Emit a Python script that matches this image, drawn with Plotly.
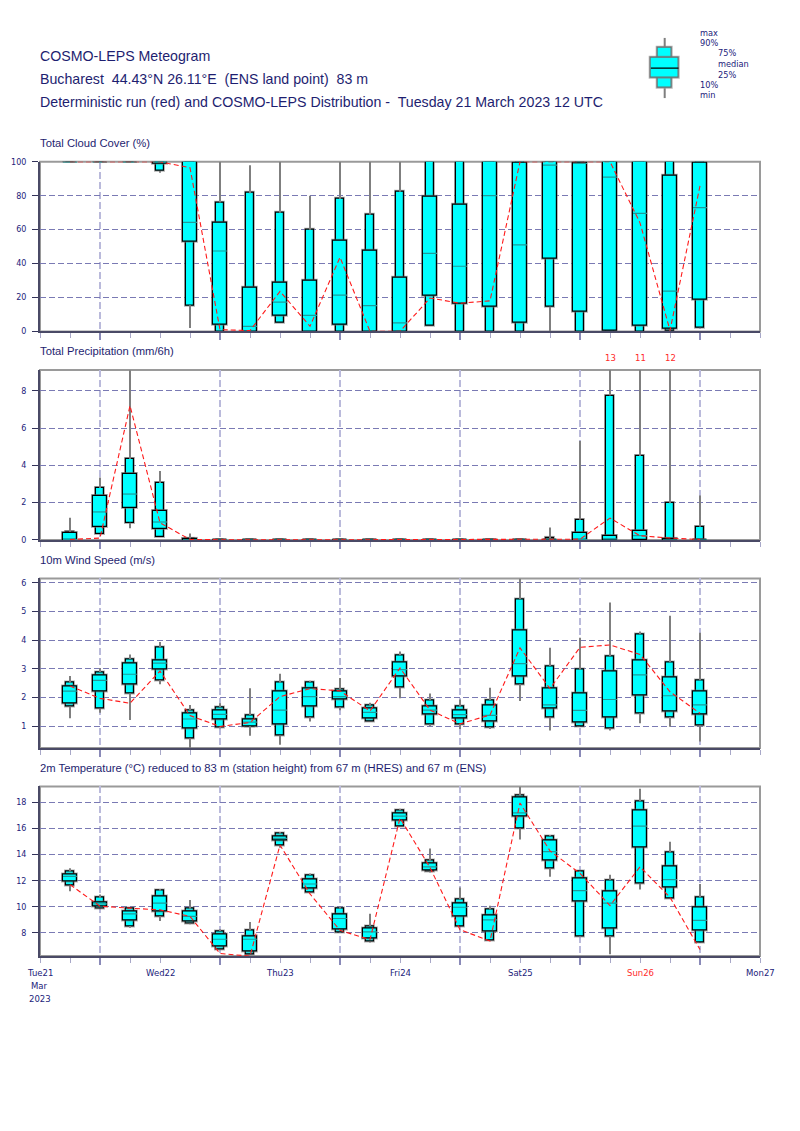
import plotly.graph_objects as go

# page body keeps a default 8px margin; figure is sized to fit inside it
OX, OY = 8, 8
W, H = 784, 1115

# ---------------- data ----------------
hours = [6, 12, 18, 24, 30, 36, 42, 48, 54, 60, 66, 72, 78, 84, 90, 96, 102, 108, 114, 120, 126, 132]

# Total cloud cover (%)
cc_min = [100, 100, 100, 93.5, 2, 0, 0, 5.3, 0, 0, 0, 0, 3.5, 0, 0, 0, 0, 0, 0, 0, 0, 2]
cc_p10 = [100, 100, 100, 94.5, 15.4, 0, 0, 5.3, 0, 0, 0, 0, 3.5, 0, 0, 0, 14.6, 0, 0, 0, 0.5, 2.1]
cc_p25 = [100, 100, 100, 98.6, 52.6, 4.1, 0, 9, 0, 4, 0, 0, 20.9, 16.2, 14.6, 5, 43, 11.5, 0.4, 3.3, 1.6, 18.5]
cc_med = [100, 100, 100, 100, 64.3, 47.4, 3, 17.3, 9.4, 21.4, 15.2, 5, 46, 38.4, 80, 51, 98, 99, 91, 69.6, 23.8, 73]
cc_p75 = [100, 100, 100, 100, 100, 64.3, 26, 28.5, 30, 53.6, 47.8, 31.8, 79.5, 74.7, 100, 99.2, 100, 99.2, 100, 100, 92, 99.2]
cc_p90 = [100, 100, 100, 100, 100, 76, 81.5, 70, 60, 78, 68.8, 82.4, 100, 100, 100, 100, 100, 100, 100, 100, 100, 100]
cc_max = [100, 100, 100, 100, 100, 100, 98, 100, 80, 100, 100, 100, 100, 100, 100, 100, 100, 100, 100, 100, 100, 100]
cc_det = [100, 100, 100, 100, 96.5, 1, 0.5, 23.6, 3, 43.7, 0, 0, 19.7, 16.6, 18, 100, 100, 100, 100, 64, 0.6, 85.8]

# Total precipitation (mm/6h)
tp_min = [0, 0.3, 0.62, 0.18, 0, 0, 0, 0, 0, 0, 0, 0, 0, 0, 0, 0, 0, 0, 0, 0, 0, 0]
tp_p10 = [0, 0.3, 0.92, 0.18, 0, 0, 0, 0, 0, 0, 0, 0, 0, 0, 0, 0, 0, 0, 0, 0, 0, 0]
tp_p25 = [0, 0.69, 1.74, 0.6, 0, 0, 0, 0, 0, 0, 0, 0, 0, 0, 0, 0, 0, 0, 0, 0, 0, 0]
tp_med = [0.02, 1.5, 2.46, 0.96, 0.01, 0, 0, 0, 0, 0, 0, 0, 0, 0, 0, 0, 0, 0.02, 0.05, 0.23, 0, 0]
tp_p75 = [0.35, 2.38, 3.55, 1.54, 0.05, 0, 0, 0, 0, 0, 0, 0, 0, 0, 0, 0, 0.02, 0.35, 0.23, 0.46, 0.03, 0.02]
tp_p90 = [0.44, 2.78, 4.34, 3.05, 0.07, 0, 0, 0, 0, 0, 0, 0, 0, 0, 0, 0, 0.1, 1.08, 7.75, 4.5, 1.97, 0.71]
tp_max = [1.19, 3.35, 9.1, 3.7, 0.34, 0, 0, 0, 0, 0, 0, 0, 0, 0, 0, 0, 0.66, 5.3, 13, 11, 12, 2.38]
tp_det = [0.02, 0.1, 7.2, 0.92, 0.02, 0, 0, 0, 0, 0, 0, 0, 0, 0, 0, 0, 0, 0.04, 1.17, 0.22, 0.1, 0.02]

# 10m wind speed (m/s)
ws_min = [1.28, 1.47, 1.22, 2.46, 0.24, 0.93, 0.67, 0.35, 1.16, 1.56, 1.16, 1.97, 0.99, 0.9, 0.9, 1.88, 0.85, 1.0, 0.85, 1.1, 0.98, 0.47]
ws_p10 = [1.68, 1.61, 2.14, 2.6, 0.57, 0.97, 1.0, 0.67, 1.31, 1.66, 1.16, 2.34, 1.06, 1.08, 0.97, 2.46, 1.29, 1.0, 0.92, 1.45, 1.32, 1.02]
ws_p25 = [1.8, 2.23, 2.45, 2.97, 0.93, 1.22, 1.01, 1.06, 1.68, 1.93, 1.28, 2.72, 1.41, 1.26, 1.16, 2.72, 1.62, 1.14, 1.29, 2.07, 1.53, 1.41]
ws_med = [2.22, 2.6, 2.81, 3.2, 1.25, 1.41, 1.14, 1.56, 2.03, 2.03, 1.48, 2.97, 1.56, 1.4, 1.38, 3.18, 1.74, 1.55, 1.93, 2.79, 2.06, 1.74]
ws_p75 = [2.4, 2.77, 3.2, 3.29, 1.43, 1.56, 1.24, 2.22, 2.32, 2.2, 1.62, 3.23, 1.69, 1.54, 1.74, 4.33, 2.31, 2.16, 2.9, 3.29, 2.69, 2.23]
ws_p90 = [2.51, 2.89, 3.34, 3.74, 1.56, 1.66, 1.39, 2.51, 2.54, 2.28, 1.71, 3.47, 1.9, 1.68, 1.91, 5.42, 3.1, 2.97, 3.44, 4.2, 3.23, 2.6]
ws_max = [2.75, 3.03, 3.5, 3.93, 1.74, 1.8, 2.32, 2.83, 2.58, 2.68, 1.82, 3.6, 2.14, 1.93, 2.34, 6.15, 3.73, 4.08, 5.31, 4.3, 4.85, 4.26]
ws_det = [2.4, 1.97, 1.8, 2.92, 1.37, 0.99, 1.13, 2.03, 2.31, 2.23, 1.53, 3.03, 1.56, 1.08, 1.39, 3.73, 2.31, 3.75, 3.83, 3.5, 2.2, 1.45]

# 2m temperature (degC)
t2_min = [11.19, 9.9, 8.4, 8.91, 8.66, 6.73, 6.38, 14.53, 11.11, 8.0, 7.27, 16.18, 12.63, 8.53, 7.39, 15.16, 12.3, 7.7, 6.38, 11.32, 10.61, 7.29]
t2_p10 = [11.62, 9.9, 8.53, 9.29, 8.71, 6.76, 6.38, 14.66, 11.11, 8.03, 7.32, 16.18, 12.68, 8.53, 7.39, 16.0, 12.94, 7.75, 7.75, 11.75, 10.61, 7.29]
t2_p25 = [11.95, 10.05, 8.96, 9.65, 8.91, 6.99, 6.56, 15.04, 11.42, 8.28, 7.57, 16.6, 12.76, 9.27, 8.13, 16.91, 13.57, 10.38, 8.33, 14.58, 11.49, 8.2]
t2_med = [12.33, 10.23, 9.47, 10.28, 9.27, 7.52, 7.52, 15.24, 11.75, 9.11, 8.08, 16.94, 13.06, 9.97, 9.01, 17.19, 14.23, 11.24, 10.28, 16.18, 12.08, 8.96]
t2_p75 = [12.51, 10.33, 9.65, 10.81, 9.65, 7.9, 7.77, 15.39, 12.08, 9.42, 8.33, 17.14, 13.34, 10.23, 9.32, 18.38, 15.11, 12.15, 11.14, 17.37, 13.09, 9.92]
t2_p90 = [12.71, 10.68, 9.85, 11.24, 9.85, 8.15, 8.2, 15.59, 12.43, 9.85, 8.53, 17.39, 13.52, 10.56, 9.8, 18.5, 15.42, 12.68, 12.05, 18.08, 14.15, 10.71]
t2_max = [12.96, 10.94, 9.92, 11.37, 10.53, 8.28, 8.84, 15.72, 12.56, 10.05, 9.47, 17.5, 14.46, 11.49, 10.08, 19.2, 15.49, 12.76, 12.46, 19.04, 14.99, 11.75]
t2_det = [11.7, 10.05, 9.9, 9.77, 9.27, 6.43, 6.23, 14.73, 10.99, 8.2, 7.49, 16.8, 13.01, 8.25, 7.39, 17.95, 14.28, 12.56, 10.1, 13.06, 10.73, 6.73]

# axis labels
grid_hours = [12, 36, 60, 84, 108, 132]
day_hours = [0, 24, 48, 72, 96, 120, 144]
day_labels = ["Tue21", "Wed22", "Thu23", "Fri24", "Sat25", "Sun26", "Mon27"]
day_colors = ["#22227a", "#22227a", "#22227a", "#22227a", "#22227a", "#ff2a2a", "#22227a"]

panel_titles = [
    "Total Cloud Cover (%)",
    "Total Precipitation (mm/6h)",
    "10m Wind Speed (m/s)",
    "2m Temperature (\u00b0C) reduced to 83 m (station height) from 67 m (HRES) and 67 m (ENS)",
]
cc_ticks = [0, 20, 40, 60, 80, 100]
tp_ticks = [0, 2, 4, 6, 8]
ws_ticks = [1, 2, 3, 4, 5, 6]
t2_ticks = [8, 10, 12, 14, 16, 18]

legend_stats = [0, 1, 2, 3, 4, 5, 6]  # min, p10, p25, median, p75, p90, max
legend_labels = ["min", "10%", "25%", "median", "75%", "90%", "max"]

header_lines = [
    "COSMO-LEPS Meteogram",
    "Bucharest  44.43\u00b0N 26.11\u00b0E  (ENS land point)  83 m",
    "Deterministic run (red) and COSMO-LEPS Distribution -  Tuesday 21 March 2023 12 UTC",
]

# ---------------- layout constants ----------------
NAVY = "#1e1e70"
CYAN = "#00ffff"
X0, X1 = 40, 760
panels = [
    dict(top=159, bottom=330, rng=[0, 100], ticks=cc_ticks,
         stats=(cc_min, cc_p10, cc_p25, cc_med, cc_p75, cc_p90, cc_max, cc_det)),
    dict(top=368.8, bottom=540.2, rng=[0, 9.12], ticks=tp_ticks,
         stats=(tp_min, tp_p10, tp_p25, tp_med, tp_p75, tp_p90, tp_max, tp_det)),
    dict(top=579, bottom=750, rng=[0.24, 6.15], ticks=ws_ticks,
         stats=(ws_min, ws_p10, ws_p25, ws_med, ws_p75, ws_p90, ws_max, ws_det)),
    dict(top=788.8, bottom=959.8, rng=[6.23, 19.21], ticks=t2_ticks,
         stats=(t2_min, t2_p10, t2_p25, t2_med, t2_p75, t2_p90, t2_max, t2_det)),
]


def px(p):
    return (p - OX) / W


def py(p):
    return 1 - (p - OY) / H


def axname(k):
    return ("x", "y") if k == 1 else (f"x{k}", f"y{k}")


fig = go.Figure()


def add_boxes(xs, mn, p10, p25, med, p75, p90, mx, xa, ya, wn, ww,
              box_line="black", med_color="#1f9a9a"):
    # whiskers (outside the 10-90 box)
    wx, wy = [], []
    for x, a, b, c, d in zip(xs, mn, p10, p90, mx):
        wx += [x, x, None, x, x, None]
        wy += [a, b, None, c, d, None]
    fig.add_trace(go.Scatter(x=wx, y=wy, mode="lines", xaxis=xa, yaxis=ya,
                             line=dict(color="#7f7f7f", width=2), hoverinfo="skip",
                             showlegend=False))
    for lo, hi, w in ((p10, p90, wn), (p25, p75, ww)):
        h = [b - a for a, b in zip(lo, hi)]
        fig.add_trace(go.Bar(x=xs, y=h, base=lo, width=w, xaxis=xa, yaxis=ya,
                             marker=dict(color=CYAN, line=dict(color="rgba(120,120,120,0.55)", width=3)),
                             showlegend=False, hoverinfo="skip"))
        fig.add_trace(go.Bar(x=xs, y=h, base=lo, width=w, xaxis=xa, yaxis=ya,
                             marker=dict(color=CYAN, line=dict(color=box_line, width=1.2)),
                             showlegend=False, hoverinfo="skip"))
    mxs, mys = [], []
    for x, m in zip(xs, med):
        mxs += [x - ww / 2, x + ww / 2, None]
        mys += [m, m, None]
    fig.add_trace(go.Scatter(x=mxs, y=mys, mode="lines", xaxis=xa, yaxis=ya,
                             line=dict(color=med_color, width=1.2), hoverinfo="skip",
                             showlegend=False))


annotations = []
shapes = []
layout_axes = {}

for i, p in enumerate(panels):
    k = i + 1
    xa, ya = axname(k)
    xkey = "xaxis" if k == 1 else f"xaxis{k}"
    ykey = "yaxis" if k == 1 else f"yaxis{k}"
    mn, p10, p25, med, p75, p90, mx, det = p["stats"]
    add_boxes(hours, mn, p10, p25, med, p75, p90, mx, xa, ya, 1.45, 2.8)
    fig.add_trace(go.Scatter(x=hours, y=det, mode="lines", xaxis=xa, yaxis=ya,
                             line=dict(color="#ff1a1a", width=1.1, dash="5px,3px"),
                             hoverinfo="skip", showlegend=False))
    # out-of-range maxima
    for x, m in zip(hours, mx):
        if m > p["rng"][1] + 0.05:
            annotations.append(dict(x=x, y=1, xref=xa, yref=f"{ya} domain", yanchor="bottom",
                                    yshift=5, text=str(int(round(m))), showarrow=False,
                                    font=dict(family="DejaVu Sans", size=8.5, color="#ff2a2a")))
    dom_y = [py(p["bottom"]), py(p["top"])]
    layout_axes[xkey] = dict(
        domain=[px(X0), px(X1)], range=[0, 144], anchor=ya,
        tickmode="array", tickvals=grid_hours, ticks="outside", ticklen=7, tickwidth=2,
        tickcolor="#8a8ab8", showticklabels=False,
        showgrid=True, gridcolor="#babadb", gridwidth=2, griddash="7px,3px",
        showline=True, linecolor="#4a4a66", linewidth=2, mirror=False, zeroline=False,
        minor=dict(tickmode="linear", tick0=0, dtick=6, ticks="outside", ticklen=5,
                   tickwidth=1, tickcolor="#a8a8c8", showgrid=False),
    )
    layout_axes[ykey] = dict(
        domain=dom_y, range=p["rng"], anchor=xa,
        tickmode="array", tickvals=p["ticks"], ticks="outside", ticklen=6, tickwidth=1,
        tickcolor="#33335a", ticklabelstandoff=4,
        tickfont=dict(family="DejaVu Sans", size=8, color="#22227a"),
        showgrid=True, gridcolor="#7a7ab4", gridwidth=1, griddash="6px,3px",
        showline=True, linecolor="#4a4a66", linewidth=2, mirror=False, zeroline=False,
    )
    shapes.append(dict(type="rect", xref=f"{xa} domain", yref=f"{ya} domain", x0=0, x1=1, y0=0, y1=1,
                       line=dict(color="#9a9a9a", width=2), layer="below"))
    annotations.append(dict(x=px(X0 - 2), y=py(p["top"] - 19), xref="paper", yref="paper",
                            xanchor="left", yanchor="middle", text=panel_titles[i], showarrow=False,
                            font=dict(family="Liberation Sans", size=11.25, color=NAVY)))

# day labels on the bottom axis
for h, lab, c in zip(day_hours, day_labels, day_colors):
    annotations.append(dict(x=h, y=py(977), xref="x4", yref="paper", xanchor="center",
                            yanchor="middle", text=lab, showarrow=False,
                            font=dict(family="DejaVu Sans", size=8.5, color=c)))
for j, extra in enumerate(["Mar", "2023"]):
    annotations.append(dict(x=day_hours[0], y=py(990 + 12.7 * j), xref="x4", yref="paper",
                            xanchor="center", yanchor="middle", text=extra, showarrow=False,
                            font=dict(family="DejaVu Sans", size=8.5, color="#22227a")))

# header
for j, line in enumerate(header_lines):
    annotations.append(dict(x=px(X0 - 2), y=py(52.5 + 23 * j), xref="paper", yref="paper",
                            xanchor="left", yanchor="middle", text=line, showarrow=False,
                            font=dict(family="Liberation Sans", size=14.2, color=NAVY)))

# legend glyph (subplot 5)
L = legend_stats
add_boxes([0], [L[0]], [L[1]], [L[2]], [L[3]], [L[4]], [L[5]], [L[6]], "x5", "y5", 0.68, 1.38,
          box_line="#6e6e6e", med_color="#000000")
layout_axes["xaxis5"] = dict(domain=[px(664.7 - 20), px(664.7 + 20)], range=[-1, 1],
                             visible=False, anchor="y5")
layout_axes["yaxis5"] = dict(domain=[py(95), py(34)], range=[0, 6], visible=False, anchor="x5")
leg_pos = [(699, 92), (699, 81.7), (716.7, 71.4), (716.7, 60.4), (716.7, 49.7), (699, 39.7), (699, 29.4)]
for lab, (lx, ly) in zip(legend_labels, leg_pos):
    annotations.append(dict(x=px(lx - 1), y=py(ly), xref="paper", yref="paper", xanchor="left",
                            yanchor="middle", text=lab, showarrow=False,
                            font=dict(family="DejaVu Sans", size=8.2, color="#22227a")))

fig.update_layout(
    width=W, height=H, margin=dict(l=0, r=0, t=0, b=0),
    paper_bgcolor="white", plot_bgcolor="white",
    barmode="overlay", bargap=0, showlegend=False,
    annotations=annotations, shapes=shapes,
    **layout_axes,
)

fig.write_html("out.html")
